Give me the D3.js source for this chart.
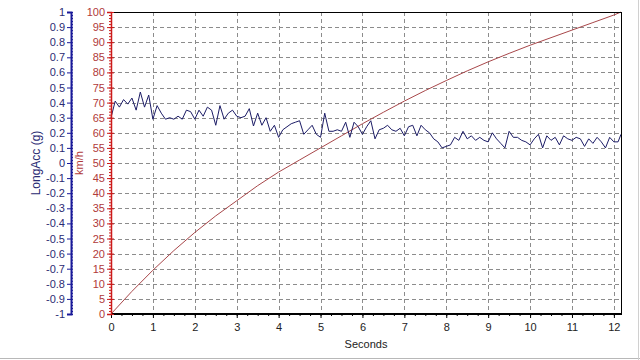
<!DOCTYPE html>
<html>
<head>
<meta charset="utf-8">
<script src="https://cdn.jsdelivr.net/npm/d3@7"></script>
<style>
	body { margin: 0; background: #fff; }
	svg { display: block; font-family: 'Liberation Sans', Arial, sans-serif; }
</style>
</head>
<body>
<svg id="chart" width="640" height="360"></svg>
<script>
// data
var accTime = [0, 0.1, 0.2, 0.3, 0.4, 0.5, 0.6, 0.7, 0.8, 0.9,
	1, 1.1, 1.2, 1.3, 1.4, 1.5, 1.6, 1.7, 1.8, 1.9,
	2, 2.1, 2.2, 2.3, 2.4, 2.5, 2.6, 2.7, 2.8, 2.9,
	3, 3.1, 3.2, 3.3, 3.4, 3.5, 3.6, 3.7, 3.8, 3.9,
	4, 4.1, 4.2, 4.3, 4.4, 4.5, 4.6, 4.7, 4.8, 4.9,
	5, 5.1, 5.2, 5.3, 5.4, 5.5, 5.6, 5.7, 5.8, 5.9,
	6, 6.1, 6.2, 6.3, 6.4, 6.5, 6.6, 6.7, 6.8, 6.9,
	7, 7.1, 7.2, 7.3, 7.4, 7.5, 7.6, 7.7, 7.8, 7.9,
	8, 8.1, 8.2, 8.3, 8.4, 8.5, 8.6, 8.7, 8.8, 8.9,
	9, 9.1, 9.2, 9.3, 9.4, 9.5, 9.6, 9.7, 9.8, 9.9,
	10, 10.1, 10.2, 10.3, 10.4, 10.5, 10.6, 10.7, 10.8, 10.9,
	11, 11.1, 11.2, 11.3, 11.4, 11.5, 11.6, 11.7, 11.8, 11.9,
	12, 12.1, 12.17];
var longAcc = [0.30, 0.41, 0.37, 0.42, 0.39, 0.43, 0.35, 0.47, 0.37, 0.45,
	0.29, 0.38, 0.33, 0.29, 0.30, 0.29, 0.31, 0.29, 0.35, 0.34,
	0.29, 0.35, 0.31, 0.37, 0.35, 0.25, 0.38, 0.29, 0.33, 0.35,
	0.31, 0.30, 0.31, 0.36, 0.245, 0.33, 0.25, 0.30, 0.21, 0.25,
	0.17, 0.22, 0.24, 0.26, 0.27, 0.28, 0.19, 0.22, 0.25, 0.19,
	0.17, 0.33, 0.21, 0.21, 0.22, 0.21, 0.27, 0.17, 0.27, 0.24,
	0.19, 0.24, 0.28, 0.16, 0.22, 0.23, 0.25, 0.22, 0.21, 0.23,
	0.18, 0.24, 0.25, 0.18, 0.25, 0.22, 0.20, 0.16, 0.14, 0.10,
	0.11, 0.12, 0.17, 0.15, 0.21, 0.16, 0.18, 0.15, 0.17, 0.15,
	0.14, 0.20, 0.16, 0.13, 0.10, 0.21, 0.17, 0.17, 0.15, 0.14,
	0.12, 0.16, 0.19, 0.10, 0.18, 0.15, 0.17, 0.12, 0.18, 0.16,
	0.15, 0.17, 0.16, 0.11, 0.16, 0.13, 0.17, 0.14, 0.10, 0.17,
	0.14, 0.14, 0.19];
var speedTime = [0, 0.5, 1, 1.5, 2, 2.5, 3, 3.5, 4, 4.5, 5, 5.5, 6, 6.5, 7, 7.5,
	8, 8.5, 9, 9.5, 10, 10.5, 11, 11.5, 12, 12.17];
var speed = [0, 7.5, 14.5, 21, 27, 32.5, 37.5, 42.5, 47, 51, 55, 59, 63, 66.8, 70.5, 74,
	77.3, 80.5, 83.5, 86.3, 89, 91.5, 94, 96.5, 99, 100];
var secondTicks = d3.range(0, 13, 1);
var speedTicks = d3.range(0, 101, 5);
var accTicks = d3.range(-10, 11, 1).map(function (d) { return d / 10; });

var svg = d3.select('#chart'),
	plotLeft = 111, plotRight = 621, plotTop = 12, plotBottom = 314;

var x = d3.scaleLinear().domain([0, 12.17]).range([plotLeft, plotRight]),
	yKmh = d3.scaleLinear().domain([0, 100]).range([plotBottom, plotTop]),
	yAcc = d3.scaleLinear().domain([-1, 1]).range([plotBottom, plotTop]);

// outer frame
svg.append('line').attr('x1', 0).attr('x2', 640).attr('y1', 358.5).attr('y2', 358.5).style('stroke', '#b8b8b8');
svg.append('line').attr('x1', 638.5).attr('x2', 638.5).attr('y1', 0).attr('y2', 360).style('stroke', '#d0d0d0');

// grid
var grid = svg.append('g').attr('class', 'grid').style('stroke', '#8c8c8c').style('stroke-dasharray', '4,3');
grid.selectAll('line.v').data(secondTicks.filter(function (d) { return d > 0; })).enter().append('line')
	.attr('class', 'v')
	.attr('x1', function (d) { return Math.round(x(d)) + 0.5; })
	.attr('x2', function (d) { return Math.round(x(d)) + 0.5; })
	.attr('y1', plotTop).attr('y2', plotBottom);
grid.selectAll('line.h').data(speedTicks.filter(function (d) { return d > 0 && d < 100; })).enter().append('line')
	.attr('class', 'h')
	.attr('x1', plotLeft).attr('x2', plotRight)
	.attr('y1', function (d) { return Math.round(yKmh(d)) + 0.5; })
	.attr('y2', function (d) { return Math.round(yKmh(d)) + 0.5; });

// lines
svg.append('path')
	.datum(speedTime.map(function (t, i) { return [t, speed[i]]; }))
	.attr('d', d3.line().x(function (d) { return x(d[0]); }).y(function (d) { return yKmh(d[1]); }))
	.style('fill', 'none').style('stroke', '#a8474a').style('stroke-width', 1);

svg.append('path')
	.datum(accTime.map(function (t, i) { return [t, longAcc[i]]; }))
	.attr('d', d3.line().x(function (d) { return x(d[0]); }).y(function (d) { return yAcc(d[1]); }))
	.style('fill', 'none').style('stroke', '#1c1c66').style('stroke-width', 1);

// plot border
svg.append('line').attr('x1', plotLeft).attr('x2', plotRight + 1).attr('y1', plotTop + 0.5).attr('y2', plotTop + 0.5).style('stroke', '#000');
svg.append('line').attr('x1', plotRight + 0.5).attr('x2', plotRight + 0.5).attr('y1', plotTop).attr('y2', plotBottom).style('stroke', '#000');

// x axis
var xAxis = svg.append('g').attr('transform', 'translate(0,' + plotBottom + ')')
	.call(d3.axisBottom(x).tickValues(secondTicks).tickSize(4).tickFormat(d3.format('d')));
svg.append('g').attr('transform', 'translate(0,' + plotBottom + ')')
	.call(d3.axisBottom(x).tickValues(d3.range(0, 12.1, 0.25)).tickSize(2).tickFormat(''))
	.select('.domain').remove();
xAxis.select('.domain').attr('d', 'M' + plotLeft + ',0H' + (plotRight + 1)).style('stroke-width', 2);
xAxis.selectAll('text').style('font-size', '11px').style('fill', '#222').attr('y', 9);

svg.append('text').attr('x', (plotLeft + plotRight) / 2).attr('y', 348)
	.attr('text-anchor', 'middle').style('font-size', '11px').style('fill', '#222').text('Seconds');

// km/h axis
var kmhAxis = svg.append('g').attr('transform', 'translate(' + plotLeft + ',0)')
	.call(d3.axisLeft(yKmh).tickValues(speedTicks).tickSize(4).tickFormat(d3.format('d')));
svg.append('g').attr('transform', 'translate(' + plotLeft + ',0)')
	.call(d3.axisLeft(yKmh).tickValues(d3.range(0, 101, 1)).tickSize(2).tickFormat(''))
	.call(function (g) { g.select('.domain').remove(); g.selectAll('line').style('stroke', '#cc1a1a'); });
kmhAxis.select('.domain').style('stroke', '#cc1a1a').style('stroke-width', 1.5);
kmhAxis.selectAll('.tick line').attr('x1', 3).style('stroke', '#cc1a1a');
kmhAxis.selectAll('text').style('font-size', '11px').style('fill', '#b03a3a').attr('x', -6);
svg.append('text').attr('transform', 'translate(83,' + ((plotTop + plotBottom) / 2) + ') rotate(-90)')
	.attr('text-anchor', 'middle').style('font-size', '11px').style('fill', '#b03a3a').text('km/h');

// LongAcc axis
var accAxis = svg.append('g').attr('transform', 'translate(71,0)')
	.call(d3.axisLeft(yAcc).tickValues(accTicks).tickSize(4).tickFormat(function (d) { return String(Math.round(d * 10) / 10); }));
svg.append('g').attr('transform', 'translate(71,0)')
	.call(d3.axisRight(yAcc).tickValues(d3.range(-50, 51, 1).map(function (d) { return d / 50; })).tickSize(2).tickFormat(''))
	.call(function (g) { g.select('.domain').remove(); g.selectAll('line').style('stroke', '#1a1a99'); });
accAxis.select('.domain').style('stroke', '#1a1a99').style('stroke-width', 2);
accAxis.selectAll('.tick line').style('stroke', '#1a1a99');
accAxis.selectAll('text').style('font-size', '11px').style('fill', '#2b2b73').attr('x', -6);
svg.append('text').attr('transform', 'translate(40,' + ((plotTop + plotBottom) / 2) + ') rotate(-90)')
	.attr('text-anchor', 'middle').style('font-size', '12px').style('fill', '#2b2b73').text('LongAcc (g)');
</script>
</body>
</html>
